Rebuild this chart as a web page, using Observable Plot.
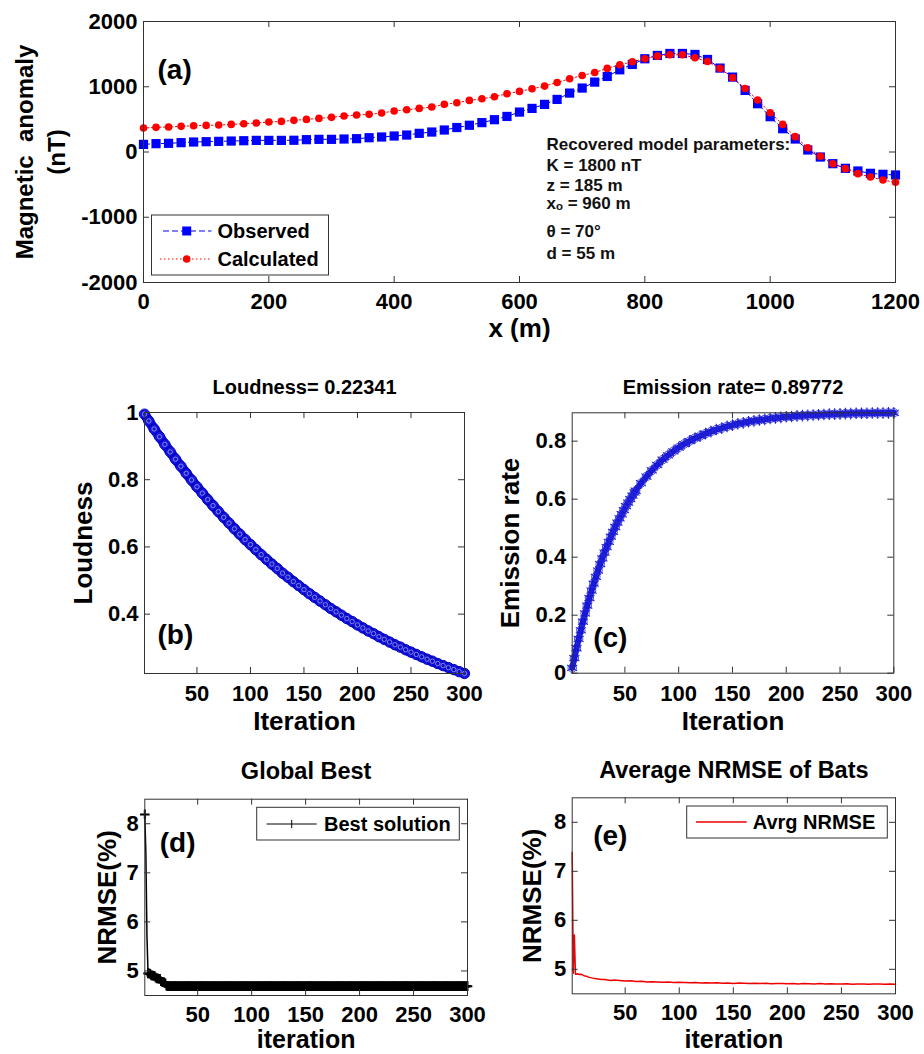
<!DOCTYPE html>
<html><head><meta charset="utf-8">
<script src="https://cdn.jsdelivr.net/npm/d3@7"></script>
<script src="https://cdn.jsdelivr.net/npm/@observablehq/plot@0.6"></script>
<style>
body{margin:0;background:#fff;}
#wrap{position:relative;width:924px;height:1054px;overflow:hidden;background:#fff;}
#wrap svg{position:absolute;}
</style></head><body><div id="wrap"></div>
<script>
// ---------- DATA ----------
const anomalyX = [0,20,40,60,80,100,120,140,160,180,200,220,240,260,280,300,320,340,360,380,400,420,440,460,480,500,520,540,560,580,600,620,640,660,680,700,720,740,760,780,800,820,840,860,880,900,920,940,960,980,1000,1020,1040,1060,1080,1100,1120,1140,1160,1180,1200];
const observedNT = [117,128,133,143,153,158,163,168,173,178,178,178,180,189,194,194,199,204,219,230,245,260,286,306,337,375,410,450,495,545,612,668,730,806,903,980,1071,1158,1260,1342,1429,1480,1510,1510,1495,1418,1286,1148,944,740,541,357,199,31,-77,-179,-250,-291,-327,-342,-352];
const calculatedNT = [367,378,383,393,403,408,413,423,434,444,459,469,485,500,515,531,551,566,577,597,628,648,668,689,730,755,791,816,847,893,929,969,1010,1066,1122,1173,1219,1281,1337,1383,1429,1469,1490,1490,1444,1388,1281,1138,974,796,602,423,235,66,-66,-179,-255,-332,-383,-429,-464];
const anomalyXTicks = [0,200,400,600,800,1000,1200];
const anomalyYTicks = [-2000,-1000,0,1000,2000];
const paramLines = ["Recovered model parameters:","K = 1800 nT","z = 185 m","x\u2092 = 960 m","\u03b8 = 70\u00b0","d = 55 m"];

const loudIter = [1,5,10,15,20,25,30,35,40,45,50,55,60,65,70,75,80,85,90,95,100,105,110,115,120,125,130,135,140,145,150,155,160,165,170,175,180,185,190,195,200,205,210,215,220,225,230,235,240,245,250,255,260,265,270,275,280,285,290,295,300];
const loudness = [0.995,0.975,0.951,0.928,0.905,0.883,0.861,0.840,0.819,0.799,0.779,0.760,0.741,0.723,0.705,0.688,0.671,0.654,0.638,0.622,0.607,0.592,0.577,0.563,0.549,0.536,0.522,0.510,0.497,0.485,0.473,0.461,0.450,0.439,0.428,0.417,0.407,0.397,0.387,0.378,0.368,0.359,0.350,0.342,0.333,0.325,0.317,0.309,0.302,0.294,0.287,0.280,0.273,0.266,0.260,0.253,0.247,0.241,0.235,0.229,0.2234];

const emisIter = [1,3,5,7,9,11,13,15,17,19,21,23,25,27,29,31,33,35,37,39,41,43,45,47,49,51,53,55,57,59,60,65,70,75,80,85,90,95,100,105,110,115,120,125,130,135,140,145,150,155,160,165,170,175,180,185,190,195,200,205,210,215,220,225,230,235,240,245,250,255,260,265,270,275,280,285,290,295,300];
const emission = [0.018,0.052,0.086,0.118,0.148,0.178,0.206,0.233,0.259,0.285,0.309,0.332,0.354,0.376,0.396,0.416,0.435,0.453,0.471,0.487,0.504,0.519,0.534,0.548,0.562,0.576,0.588,0.600,0.612,0.623,0.629,0.655,0.678,0.699,0.718,0.736,0.751,0.765,0.778,0.790,0.800,0.810,0.818,0.826,0.833,0.840,0.845,0.851,0.855,0.860,0.863,0.867,0.870,0.873,0.875,0.878,0.880,0.882,0.884,0.885,0.887,0.888,0.889,0.890,0.891,0.892,0.893,0.893,0.894,0.895,0.895,0.896,0.896,0.896,0.897,0.897,0.897,0.8975,0.8977];

// global best NRMSE at iterations 1..300
const bestNRMSE = [8.19,7.38,5.71,4.95,4.95,4.94,4.91,4.91,4.90,4.90,4.87,4.85,4.85,4.84,4.84,4.79,4.78,4.77,4.77,4.75,4.70,
4.69,4.69,4.69,4.69,4.69,4.69,4.69,4.69,4.69,4.69,4.69,4.69,4.69,4.69,4.69,4.69,4.69,4.69,4.69,4.69,
4.69,4.69,4.69,4.69,4.69,4.69,4.69,4.69,4.69,4.69,4.69,4.69,4.69,4.69,4.69,4.69,4.69,4.69,4.69,4.69,
4.69,4.69,4.69,4.69,4.69,4.69,4.69,4.69,4.69,4.69,4.69,4.69,4.69,4.69,4.69,4.69,4.69,4.69,4.69,4.69,
4.69,4.69,4.69,4.69,4.69,4.69,4.69,4.69,4.69,4.69,4.69,4.69,4.69,4.69,4.69,4.69,4.69,4.69,4.69,4.69,
4.69,4.69,4.69,4.69,4.69,4.69,4.69,4.69,4.69,4.69,4.69,4.69,4.69,4.69,4.69,4.69,4.69,4.69,4.69,4.69,
4.69,4.69,4.69,4.69,4.69,4.69,4.69,4.69,4.69,4.69,4.69,4.69,4.69,4.69,4.69,4.69,4.69,4.69,4.69,4.69,
4.69,4.69,4.69,4.69,4.69,4.69,4.69,4.69,4.69,4.69,4.69,4.69,4.69,4.69,4.69,4.69,4.69,4.69,4.69,4.69,
4.69,4.69,4.69,4.69,4.69,4.69,4.69,4.69,4.69,4.69,4.69,4.69,4.69,4.69,4.69,4.69,4.69,4.69,4.69,4.69,
4.69,4.69,4.69,4.69,4.69,4.69,4.69,4.69,4.69,4.69,4.69,4.69,4.69,4.69,4.69,4.69,4.69,4.69,4.69,4.69,
4.69,4.69,4.69,4.69,4.69,4.69,4.69,4.69,4.69,4.69,4.69,4.69,4.69,4.69,4.69,4.69,4.69,4.69,4.69,4.69,
4.69,4.69,4.69,4.69,4.69,4.69,4.69,4.69,4.69,4.69,4.69,4.69,4.69,4.69,4.69,4.69,4.69,4.69,4.69,4.69,
4.69,4.69,4.69,4.69,4.69,4.69,4.69,4.69,4.69,4.69,4.69,4.69,4.69,4.69,4.69,4.69,4.69,4.69,4.69,4.69,
4.69,4.69,4.69,4.69,4.69,4.69,4.69,4.69,4.69,4.69,4.69,4.69,4.69,4.69,4.69,4.69,4.69,4.69,4.69,4.69,
4.69,4.69,4.69,4.69,4.69,4.69,4.69,4.69,4.69,4.69,4.69,4.69,4.69,4.69,4.69,4.69,4.69,4.69,4.69];

const avgIter = [1,2,3,4,5,6,7,8,9,10,12,14,16,18,20,22,25,28,31,34,37,40,45,50,55,60,65,70,75,80,85,90,95,100,105,110,115,120,125,130,135,140,145,150,155,160,165,170,175,180,185,190,195,200,205,210,215,220,225,230,235,240,245,250,255,260,265,270,275,280,285,290,295,300];
const avgNRMSE = [7.39,4.92,5.70,4.90,4.90,4.91,4.90,4.89,4.90,4.89,4.87,4.86,4.84,4.83,4.82,4.81,4.80,4.79,4.79,4.78,4.77,4.78,4.77,4.76,4.765,4.75,4.755,4.74,4.745,4.74,4.735,4.74,4.73,4.735,4.73,4.725,4.73,4.72,4.725,4.72,4.725,4.715,4.72,4.71,4.72,4.715,4.71,4.715,4.71,4.715,4.705,4.71,4.71,4.705,4.71,4.70,4.71,4.705,4.70,4.71,4.70,4.705,4.70,4.70,4.705,4.695,4.70,4.70,4.695,4.70,4.70,4.695,4.70,4.695];

const iterTicks = [50,100,150,200,250,300];
const loudTicks = [0.4,0.6,0.8,1];
const emisTicks = [0,0.2,0.4,0.6,0.8];
const nrmseTicks = [5,6,7,8];

// ---------- TABLES ----------
const zip = (xs, ys, kx, ky) => xs.slice(0, Math.min(xs.length, ys.length)).map((x, i) => ({[kx]: x, [ky]: ys[i]}));
const anomalyRows = anomalyX.map((x, i) => ({x, obs: observedNT[i], calc: calculatedNT[i]}));
const loudRows = zip(loudIter, loudness, "t", "v");
const emisRows = zip(emisIter, emission, "t", "v");
const bestRows = bestNRMSE.map((v, i) => ({t: i + 1, v}));
const avgRows = zip(avgIter, avgNRMSE, "t", "v");

// ---------- DRAW ----------
const wrap = document.getElementById("wrap");
const FONT = "'Liberation Sans', Arial, Helvetica, sans-serif";
const BOX = "#333";

function lbl(text, o) {
  return Plot.text([text], {text: d => d, fontWeight: "bold", fill: "#000", lineAnchor: "middle", textAnchor: "middle", ...o});
}

function panel(c) {
  const fw = c.width - c.ml - c.mr, fh = c.height - c.mt - c.mb;
  const fmt = d => String(d);
  const svg = Plot.plot({
    width: c.width, height: c.height,
    marginLeft: c.ml, marginRight: c.mr, marginTop: c.mt, marginBottom: c.mb,
    x: {domain: c.xDomain}, y: {domain: c.yDomain},
    style: {fontFamily: FONT, fontSize: "22px", fontWeight: "bold", color: "#000", background: "transparent", overflow: "visible"},
    marks: [
      ...c.marks,
      Plot.frame({stroke: BOX, strokeWidth: 1}),
      Plot.tickX(c.xTicks, {x: d => d, insetTop: fh - 6, stroke: BOX}),
      Plot.tickX(c.xTicks, {x: d => d, insetBottom: fh - 6, stroke: BOX}),
      Plot.tickY(c.yTicks, {y: d => d, insetRight: fw - 6, stroke: BOX}),
      Plot.tickY(c.yTicks, {y: d => d, insetLeft: fw - 6, stroke: BOX}),
      Plot.axisX({ticks: c.xTicks, tickSize: 0, tickPadding: c.xPad, tickFormat: fmt, label: null, fontSize: 22}),
      Plot.axisY({ticks: c.yTicks, tickSize: 0, tickPadding: c.yPad, tickFormat: fmt, label: null, fontSize: 22}),
      ...c.labels
    ]
  });
  svg.style.left = c.left + "px";
  svg.style.top = c.top + "px";
  wrap.appendChild(svg);
}

// (a) magnetic anomaly
const paramDy = [123, 144, 164, 182.5, 210, 232];
panel({
  left: 0, top: 0, width: 924, height: 345, ml: 143, mr: 29, mt: 21, mb: 63,
  xDomain: [0, 1200], yDomain: [-2000, 2000], xTicks: anomalyXTicks, yTicks: anomalyYTicks, xPad: 11, yPad: 6,
  marks: [
    Plot.line(anomalyRows, {x: "x", y: "obs", stroke: "#0000ff", strokeWidth: 1, strokeDasharray: "6,3"}),
    Plot.dot(anomalyRows, {x: "x", y: "obs", symbol: "square", r: 5.2, fill: "#0000ff", stroke: "none"}),
    Plot.line(anomalyRows, {x: "x", y: "calc", stroke: "#ff0000", strokeWidth: 1, strokeDasharray: "1.5,2.5"}),
    Plot.dot(anomalyRows, {x: "x", y: "calc", r: 3.8, fill: "#ff0000", stroke: "none"})
  ],
  labels: [
    lbl("Magnetic  anomaly", {frameAnchor: "left", rotate: -90, dx: -118, fontSize: 24}),
    lbl("(nT)", {frameAnchor: "left", rotate: -90, dx: -86, fontSize: 24}),
    lbl("x (m)", {frameAnchor: "bottom", dy: 46, fontSize: 26}),
    lbl("(a)", {frameAnchor: "top-left", textAnchor: "start", dx: 14, dy: 49, fontSize: 28}),
    ...paramLines.map((s, i) => lbl(s, {frameAnchor: "top-left", textAnchor: "start", dx: 403, dy: paramDy[i], fontSize: 17, fill: "#111"}))
  ]
});

// (b) loudness
panel({
  left: 0, top: 345, width: 490, height: 400, ml: 144, mr: 26, mt: 67, mb: 72,
  xDomain: [1, 300], yDomain: [0.22341, 1], xTicks: iterTicks, yTicks: loudTicks, xPad: 12, yPad: 6,
  marks: [
    Plot.line(loudRows, {x: "t", y: "v", stroke: "#1414dc", strokeWidth: 10}),
    Plot.dot(loudRows, {x: "t", y: "v", r: 5.2, stroke: "#0000c0", strokeWidth: 1, fill: "none"}),
    Plot.dot(loudRows, {x: "t", y: "v", r: 2.2, stroke: "#a0a0e6", strokeWidth: 0.8, fill: "none"})
  ],
  labels: [
    lbl("Loudness= 0.22341", {frameAnchor: "top", dy: -25, fontSize: 20}),
    lbl("Loudness", {frameAnchor: "left", rotate: -90, dx: -61, fontSize: 26}),
    lbl("Iteration", {frameAnchor: "bottom", dy: 48, fontSize: 26}),
    lbl("(b)", {frameAnchor: "bottom-left", textAnchor: "start", dx: 13, dy: -38, fontSize: 28})
  ]
});

// (c) emission rate
panel({
  left: 490, top: 345, width: 434, height: 400, ml: 81.7, mr: 30.7, mt: 67.3, mb: 72.3,
  xDomain: [1, 300], yDomain: [0, 0.89772], xTicks: iterTicks, yTicks: emisTicks, xPad: 12, yPad: 6,
  marks: [
    Plot.line(emisRows, {x: "t", y: "v", stroke: "#1010d0", strokeWidth: 6}),
    Plot.dot(emisRows, {x: "t", y: "v", symbol: "asterisk", r: 5.5, stroke: "#1c1cd8", strokeWidth: 1.1}),
    Plot.dot(emisRows, {x: "t", y: "v", r: 4.2, stroke: "#2a2ad8", strokeWidth: 0.9, fill: "none"})
  ],
  labels: [
    lbl("Emission rate= 0.89772", {frameAnchor: "top", dy: -25, fontSize: 20}),
    lbl("Emission rate", {frameAnchor: "left", rotate: -90, dx: -62, fontSize: 26}),
    lbl("Iteration", {frameAnchor: "bottom", dy: 48, fontSize: 26}),
    lbl("(c)", {frameAnchor: "bottom-left", textAnchor: "start", dx: 21, dy: -35, fontSize: 28})
  ]
});

// (d) global best
panel({
  left: 0, top: 745, width: 490, height: 309, ml: 144.3, mr: 23, mt: 53.7, mb: 59,
  xDomain: [1, 300], yDomain: [4.5, 8.5], xTicks: iterTicks, yTicks: nrmseTicks, xPad: 10.5, yPad: 6,
  marks: [
    Plot.line(bestRows, {x: "t", y: "v", stroke: "#000", strokeWidth: 1.5}),
    Plot.dot(bestRows, {x: "t", y: "v", symbol: "plus", r: 3.2, stroke: "#000", strokeWidth: 2, filter: d => d.t === 1 || d.t > 3})
  ],
  labels: [
    lbl("Global Best", {frameAnchor: "top", dy: -28, fontSize: 23.5}),
    lbl("NRMSE(%)", {frameAnchor: "left", rotate: -90, dx: -37.5, fontSize: 26}),
    lbl("iteration", {frameAnchor: "bottom", dy: 44, fontSize: 25}),
    lbl("(d)", {frameAnchor: "top-left", textAnchor: "start", dx: 15, dy: 44, fontSize: 28})
  ]
});

// (e) average NRMSE
panel({
  left: 490, top: 745, width: 434, height: 309, ml: 81.7, mr: 29, mt: 52.3, mb: 60.7,
  xDomain: [1, 300], yDomain: [4.5, 8.5], xTicks: iterTicks, yTicks: nrmseTicks, xPad: 11, yPad: 6,
  marks: [
    Plot.line(avgRows, {x: "t", y: "v", stroke: "#ee0000", strokeWidth: 1.5})
  ],
  labels: [
    lbl("Average NRMSE of Bats", {frameAnchor: "top", dy: -27, fontSize: 23.5}),
    lbl("NRMSE(%)", {frameAnchor: "left", rotate: -90, dx: -40, fontSize: 26}),
    lbl("iteration", {frameAnchor: "bottom", dy: 45.7, fontSize: 25}),
    lbl("(e)", {frameAnchor: "top-left", textAnchor: "start", dx: 21, dy: 38, fontSize: 28})
  ]
});

// ---------- LEGENDS (overlay) ----------
const ov = d3.select(wrap).append("svg")
  .attr("width", 924).attr("height", 1054)
  .style("left", "0px").style("top", "0px").style("pointer-events", "none")
  .attr("font-family", FONT).attr("font-weight", "bold").attr("font-size", 20);

function legendBox(x0, y0, x1, y1) {
  ov.append("rect").attr("x", x0).attr("y", y0).attr("width", x1 - x0).attr("height", y1 - y0)
    .attr("fill", "#fff").attr("stroke", BOX).attr("stroke-width", 1);
}
function legendText(x, y, s) {
  ov.append("text").attr("x", x).attr("y", y).attr("dominant-baseline", "central").attr("fill", "#000").text(s);
}
// (a)
legendBox(151.5, 215, 328.5, 275);
ov.append("line").attr("x1", 163).attr("x2", 211.5).attr("y1", 231).attr("y2", 231).attr("stroke", "#0000ff").attr("stroke-dasharray", "6,3");
ov.append("rect").attr("x", 182.2).attr("y", 226.5).attr("width", 9).attr("height", 9).attr("fill", "#0000ff");
legendText(217.5, 231, "Observed");
ov.append("line").attr("x1", 160).attr("x2", 211.5).attr("y1", 259).attr("y2", 259).attr("stroke", "#ff0000").attr("stroke-dasharray", "1.5,2.5");
ov.append("circle").attr("cx", 186.7).attr("cy", 259).attr("r", 3.8).attr("fill", "#ff0000");
legendText(217.5, 259, "Calculated");
// (d)
legendBox(256.7, 807.3, 459.3, 840);
ov.append("line").attr("x1", 266.7).attr("x2", 316.7).attr("y1", 824).attr("y2", 824).attr("stroke", "#000");
ov.append("line").attr("x1", 291.7).attr("x2", 291.7).attr("y1", 820).attr("y2", 828).attr("stroke", "#000");
legendText(324, 824, "Best solution");
// (e)
legendBox(686.7, 806, 887.3, 838);
ov.append("line").attr("x1", 696).attr("x2", 746.7).attr("y1", 822).attr("y2", 822).attr("stroke", "#ee0000").attr("stroke-width", 1.5);
legendText(752.7, 822, "Avrg NRMSE");
</script></body></html>
